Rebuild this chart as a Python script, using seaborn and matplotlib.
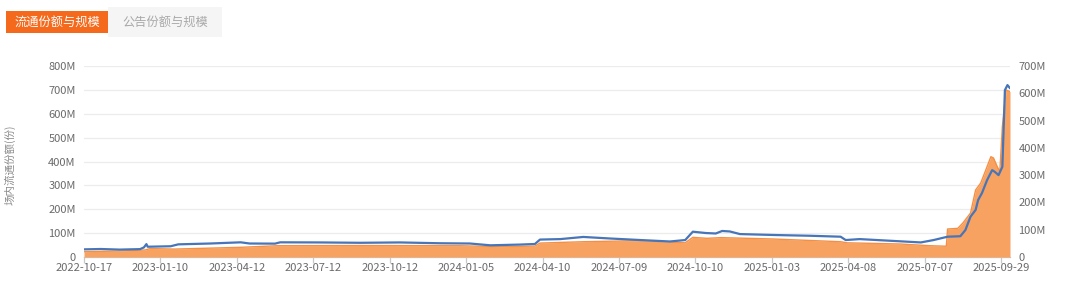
import numpy as np
import pandas as pd
import matplotlib
matplotlib.use("Agg")
import matplotlib.pyplot as plt
from matplotlib.patches import Rectangle
import seaborn as sns

# ---------------- data ----------------
date_labels = ["2022-10-17", "2023-01-10", "2023-04-12", "2023-07-12", "2023-10-12",
               "2024-01-05", "2024-04-10", "2024-07-09", "2024-10-10", "2025-01-03",
               "2025-04-08", "2025-07-07", "2025-09-29"]

# trading-day index and on-exchange circulating shares (millions)
share_day = [0, 13, 28, 44, 47, 49, 50, 68, 74, 99, 123, 130, 150, 154, 185, 217, 248,
             280, 303, 319, 342, 354, 358, 374, 392, 413, 437, 460, 472, 478, 488, 496,
             501, 507, 515, 543, 570, 594, 598, 609, 633, 657, 667, 678, 688, 692, 696,
             700, 702, 705, 709, 713, 715, 718, 721, 723, 725, 727]
share_m = [32, 33.5, 31, 33, 40, 54, 43, 45, 53, 56.5, 61.5, 56.5, 56, 61.5, 61, 59.5, 61,
           57.5, 56.5, 49, 52, 54.5, 73, 75, 84, 77.5, 71, 65, 71, 106, 100.5, 98.5,
           109, 107, 96, 92, 89, 85, 71, 75, 68, 61, 71, 85, 87, 113, 169,
           197, 239, 268, 322, 364, 357, 343, 378, 699, 720, 707]

# trading-day index and fund scale (millions)
scale_day = [0, 28, 48, 52, 71, 123, 152, 217, 295, 327, 354, 358, 392, 437, 472, 478,
             489, 500, 541, 594, 599, 641, 664, 677, 678, 686, 690, 696, 700, 704, 708,
             712, 714, 717, 719, 721, 724, 727]
scale_m = [19.4, 22, 25.7, 31, 29, 35.5, 41.4, 42, 41.4, 37.7, 40, 51, 56, 60, 52, 72,
           68.5, 71, 66, 56, 52, 47.6, 41.4, 39.5, 102.6, 105, 124.6, 161, 245.6, 271, 319,
           367.6, 363, 331, 312.6, 477.5, 612, 606]

share_df = pd.DataFrame({"day": share_day, "value": share_m})
scale_df = pd.DataFrame({"day": scale_day, "value": scale_m})

# ---------------- style ----------------
sns.set_theme(style="white")
plt.rcParams["font.family"] = ["Noto Sans CJK SC", "DejaVu Sans"]

BLUE = "#4775b8"
ORANGE_FILL = "#f8a262"
ORANGE_LINE = "#f39045"
GRID = "#ececec"
TXT = "#6a6a6a"

fig = plt.figure(figsize=(10.8, 2.83), dpi=100)
ax = fig.add_axes([84 / 1080, 26 / 283, 926 / 1080, 191 / 283])
ax2 = ax.twinx()

# left axis (shares) - grid
ax.set_xlim(0, 727)
ax.set_ylim(0, 800)
ax.set_yticks(np.arange(0, 801, 100))
ax.set_yticklabels(["0"] + [f"{v}M" for v in range(100, 801, 100)])
ax.grid(axis="y", color=GRID, linewidth=0.9)
ax.grid(axis="x", visible=False)

# right axis (scale)
ax2.set_ylim(0, 700)
ax2.set_yticks(np.arange(0, 701, 100))
ax2.set_yticklabels(["0"] + [f"{v}M" for v in range(100, 701, 100)])
ax2.grid(False)

# orange area on right axis
ax2.fill_between(scale_df["day"], 0, scale_df["value"], color=ORANGE_FILL, linewidth=0, zorder=1)
sns.lineplot(data=scale_df, x="day", y="value", ax=ax2, color=ORANGE_LINE, linewidth=1.0, zorder=2)

# blue line on left-axis scale, drawn above the area
sns.lineplot(data=share_df, x="day", y="value", ax=ax2, color=BLUE, linewidth=1.6,
             transform=ax.transData, zorder=3)

ax2.set_xlim(0, 727)
ax2.set_ylim(0, 700)
ax.set_xlabel("")
ax2.set_xlabel("")
ax2.set_ylabel("")

ticks = np.arange(len(date_labels)) * 60
ax.set_xticks(ticks)
ax.set_xticklabels(date_labels)

for a in (ax, ax2):
    for s in ("top", "left", "right", "bottom"):
        a.spines[s].set_visible(False)
ax.spines["bottom"].set_visible(True)
ax.spines["bottom"].set_color("#c8c8c8")
ax.spines["bottom"].set_linewidth(0.9)

ax.tick_params(axis="x", colors="#c8c8c8", labelcolor=TXT, labelsize=8, length=4,
               width=0.9, direction="out", pad=0.5, bottom=True)
ax.tick_params(axis="y", labelcolor=TXT, labelsize=8, length=0, pad=6)
ax2.tick_params(axis="y", labelcolor=TXT, labelsize=8, length=0, pad=6)

fig.text(10 / 1080, 1 - 165 / 283, "场内流通份额(份)", rotation=90, ha="center", va="center",
         fontsize=7.6, color="#8a8a8a")

# top toggle buttons
fig.patches.append(Rectangle((108 / 1080, 1 - 37 / 283), 114 / 1080, 30 / 283,
                             transform=fig.transFigure, facecolor="#f5f5f5", edgecolor="none"))
fig.patches.append(Rectangle((6 / 1080, 1 - 33 / 283), 102 / 1080, 22 / 283,
                             transform=fig.transFigure, facecolor="#f5691c", edgecolor="none"))
fig.text(57 / 1080, 1 - 22 / 283, "流通份额与规模", ha="center", va="center", fontsize=8.8, color="white")
fig.text(165 / 1080, 1 - 22 / 283, "公告份额与规模", ha="center", va="center", fontsize=8.8, color="#a8a8a8")

fig.savefig("out.png", dpi=100)
